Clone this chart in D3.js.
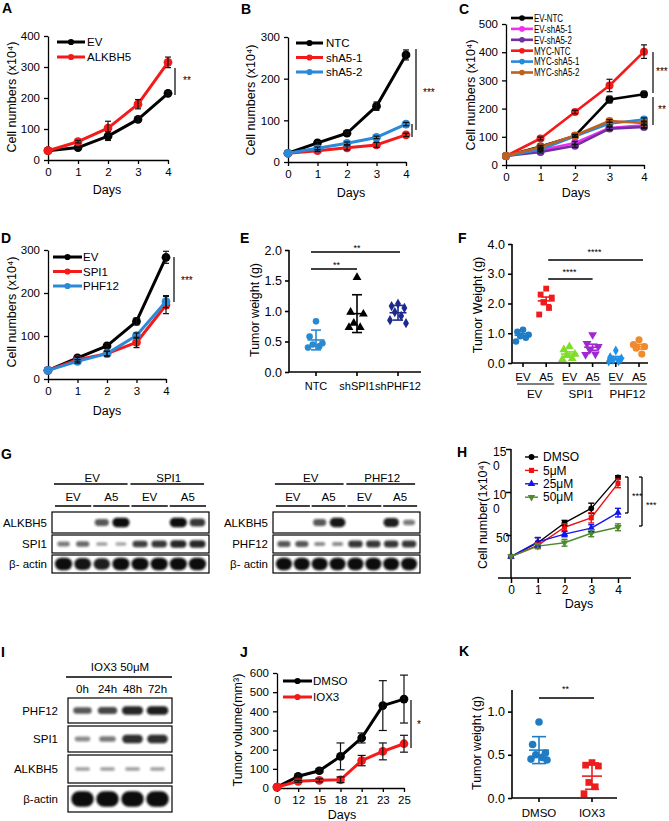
<!DOCTYPE html>
<html><head><meta charset="utf-8">
<script src="https://cdn.jsdelivr.net/npm/d3@7"></script>
<style>body{margin:0;background:#fff}</style>
</head><body>
<svg id="chart" width="669" height="821"></svg>
<script>
// ================= DATA =================
const days = [0, 1, 2, 3, 4];
// A
const A_ticks = [0, 100, 200, 300, 400];
const A_EV = [30, 40, 77, 131, 215];
const A_EV_err = [0, 3, 14, 8, 6];
const A_ALKBH5 = [30, 59, 103, 180, 315];
const A_ALKBH5_err = [0, 4, 22, 15, 17];
// B
const B_ticks = [0, 100, 200, 300];
const B_NTC = [21, 46, 69, 134, 257];
const B_NTC_err = [0, 3, 3, 10, 12];
const B_sh1 = [21, 27, 34, 41, 65];
const B_sh1_err = [0, 2, 5, 6, 4];
const B_sh2 = [21, 33, 45, 59, 91];
const B_sh2_err = [0, 3, 3, 3, 4];
// C
const C_ticks = [0, 100, 200, 300, 400, 500];
const C_names = ["EV-NTC", "EV-shA5-1", "EV-shA5-2", "MYC-NTC", "MYC-shA5-1", "MYC-shA5-2"];
const C_EV_NTC = [32, 66, 103, 232, 251];
const C_EV_NTC_err = [0, 4, 5, 12, 10];
const C_EV_sh1 = [32, 52, 78, 131, 141];
const C_EV_sh1_err = [0, 3, 6, 6, 8];
const C_EV_sh2 = [32, 46, 68, 129, 135];
const C_EV_sh2_err = [0, 3, 5, 5, 6];
const C_MYC_NTC = [32, 94, 188, 282, 402];
const C_MYC_NTC_err = [0, 5, 6, 22, 24];
const C_MYC_sh1 = [32, 55, 102, 147, 161];
const C_MYC_sh1_err = [0, 3, 4, 5, 6];
const C_MYC_sh2 = [32, 64, 105, 156, 149];
const C_MYC_sh2_err = [0, 3, 4, 5, 6];
// D
const D_ticks = [0, 100, 200, 300];
const D_EV = [20, 49, 77, 134, 283];
const D_EV_err = [0, 4, 6, 8, 14];
const D_SPI1 = [20, 45, 59, 85, 172];
const D_SPI1_err = [0, 5, 6, 12, 20];
const D_PHF12 = [20, 41, 59, 101, 180];
const D_PHF12_err = [0, 4, 5, 6, 14];
// E (tumor weight, g)
const E_cats = ["NTC", "shSPI1", "shPHF12"];
const E_NTC = [0.83, 0.58, 0.47, 0.45, 0.42, 0.40];
const E_shSPI1 = [1.55, 0.98, 0.95, 0.80, 0.73, 0.73];
const E_shPHF12 = [1.12, 1.08, 1.05, 0.98, 0.92, 0.85, 0.80];
const E_ticks = [0, 0.5, 1.0, 1.5, 2.0];
// F (tumor weight, g)
const F_cats = ["EV-EV", "EV-A5", "SPI1-EV", "SPI1-A5", "PHF12-EV", "PHF12-A5"];
const F_sub = ["EV", "A5"];
const F_groups = ["EV", "SPI1", "PHF12"];
const F_EV_EV = [1.12, 1.05, 0.95, 0.90, 0.85, 0.72];
const F_EV_A5 = [2.50, 2.30, 2.20, 2.05, 1.85, 1.63];
const F_SPI1_EV = [0.55, 0.45, 0.30, 0.25, 0.15, 0.12];
const F_SPI1_A5 = [0.95, 0.65, 0.55, 0.45, 0.30, 0.28];
const F_PHF12_EV = [0.42, 0.20, 0.15, 0.10, 0.06, 0.05];
const F_PHF12_A5 = [0.78, 0.62, 0.55, 0.50, 0.30];
const F_ticks = [0, 1, 2, 3, 4];
// G (western blot band intensities, 0-1)
const G_left_groups = ["EV", "SPI1"];
const G_right_groups = ["EV", "PHF12"];
const G_sub = ["EV", "A5", "EV", "A5"];
const G_left_ALKBH5 = [0, 0, 0.55, 1.0, 0, 0, 1.0, 0.75];
const G_left_SPI1 = [0.35, 0.45, 0.15, 0.1, 0.7, 0.75, 0.85, 0.85];
const G_left_actin = [1, 0.95, 0.9, 1, 1, 1, 1, 1];
const G_right_ALKBH5 = [0, 0, 0.55, 0.95, 0, 0, 0.9, 0.35];
const G_right_PHF12 = [0.55, 0.55, 0.25, 0.25, 0.75, 0.75, 0.75, 0.75];
const G_right_actin = [1, 1, 1, 1, 1, 1, 1, 1];
// H
const H_series = ["DMSO", "5\u03bcM", "25\u03bcM", "50\u03bcM"];
const H_DMSO = [25, 41, 64, 81, 117];
const H_DMSO_err = [0, 6, 3, 6, 2];
const H_5 = [25, 38, 59, 70, 110];
const H_5_err = [0, 3, 4, 6, 5];
const H_25 = [25, 42, 51, 58, 76];
const H_25_err = [0, 5, 3, 4, 5];
const H_50 = [25, 37, 41, 52, 59];
const H_50_err = [0, 3, 4, 4, 4];
const H_ticks = [50, 100, 150];
const H_tickLabels = [["50"], ["10", "0"], ["15", "0"]];
// I
const I_times = ["0h", "24h", "48h", "72h"];
const I_PHF12 = [0.55, 0.65, 0.85, 0.9];
const I_SPI1 = [0.25, 0.35, 0.8, 0.8];
const I_ALKBH5 = [0.15, 0.15, 0.15, 0.15];
const I_actin = [1, 1, 1, 1];
// J
const J_days = ["0", "12", "15", "18", "21", "23", "25"];
const J_DMSO = [5, 61, 90, 165, 261, 430, 464];
const J_DMSO_err = [0, 8, 10, 70, 26, 130, 125];
const J_IOX3 = [5, 35, 40, 43, 143, 191, 231];
const J_IOX3_err = [0, 5, 8, 15, 27, 44, 44];
const J_ticks = [0, 100, 200, 300, 400, 500, 600];
// K
const K_cats = ["DMSO", "IOX3"];
const K_DMSO = [0.88, 0.62, 0.52, 0.50, 0.47, 0.45, 0.44];
const K_IOX3 = [0.41, 0.38, 0.37, 0.18, 0.13, 0.05];
const K_ticks = [0, 0.5, 1.0];

// ================= HELPERS =================
const svg = d3.select('#chart');
const FONT = "'Liberation Sans', Arial, Helvetica, sans-serif";
const defs = svg.append('defs');
defs.append('filter').attr('id', 'blur').attr('x', '-50%').attr('y', '-100%').attr('width', '200%').attr('height', '300%')
  .append('feGaussianBlur').attr('stdDeviation', 1.1);

function T(x, y, s, o = {}) {
  const t = svg.append('text').attr('x', x).attr('y', y).text(s)
    .attr('font-family', FONT).attr('font-size', o.fs || 12).attr('fill', o.fill || '#000')
    .attr('text-anchor', o.anchor || 'middle');
  if (o.bold) t.attr('font-weight', 'bold');
  if (o.rot) t.attr('transform', `rotate(${o.rot},${x},${y})`);
  if (o.mid !== false) t.attr('dy', '0.35em');
  return t;
}
function L(x1, y1, x2, y2, c = '#000', w = 1.2) {
  return svg.append('line').attr('x1', x1).attr('y1', y1).attr('x2', x2).attr('y2', y2)
    .attr('stroke', c).attr('stroke-width', w);
}
function styleAxis(a, fs, sw) {
  a.select('.domain').attr('stroke', '#000').attr('stroke-width', sw);
  a.selectAll('.tick line').attr('stroke', '#000').attr('stroke-width', sw);
  a.selectAll('.tick text').attr('font-size', fs).attr('font-family', FONT).attr('fill', '#000');
}
function sym(type, size, down) {
  return { d: d3.symbol().type(type).size(size)(), rot: down ? 180 : 0 };
}
function letter(x, y, s) { T(x, y, s, { fs: 14, bold: true, anchor: 'start', mid: false }); }

function linePanel(o) {
  const g = svg.append('g');
  const x = o.x, y = o.y;
  const ya = g.append('g').attr('transform', `translate(${o.axisX},0)`)
    .call(d3.axisLeft(y).tickValues(o.yTicks).tickSize(o.ts || 4).tickSizeOuter(0).tickPadding(o.tp || 4).tickFormat(o.yFmt || (d => d)));
  const xa = g.append('g').attr('transform', `translate(0,${o.axisY})`)
    .call(d3.axisBottom(x).tickValues(o.xTicks).tickSize(o.ts || 4).tickSizeOuter(0).tickPadding(o.tp || 4).tickFormat(o.xFmt || (d => d)));
  styleAxis(ya, o.fs || 11.5, o.sw || 1.3);
  styleAxis(xa, o.fs || 11.5, o.sw || 1.3);
  if (o.yDomainPath) ya.select('.domain').attr('d', o.yDomainPath);
  if (o.xDomainPath) xa.select('.domain').attr('d', o.xDomainPath);
  const all = [];
  o.series.forEach(s => {
    const pts = o.xs.map((xv, i) => ({ x: x(xv), y: y(s.v[i]), v: s.v[i], e: s.e ? s.e[i] : 0 }));
    all.push({ s, pts });
    g.append('path').datum(pts).attr('d', d3.line().x(d => d.x).y(d => d.y))
      .attr('fill', 'none').attr('stroke', s.c).attr('stroke-width', o.lw || 3).attr('stroke-linejoin', 'round');
    const m = s.m || sym(d3.symbolCircle, o.ms || 60);
    g.selectAll(null).data(pts).enter().append('path')
      .attr('transform', d => `translate(${d.x},${d.y}) rotate(${m.rot})`).attr('d', m.d).attr('fill', s.c);
  });
  all.forEach(({ s, pts }) => {
    pts.forEach(p => {
      if (!p.e) return;
      const c = o.errColor || s.c;
      const yt = y(p.v + p.e), yb = y(p.v - p.e), cw = o.cw || 3;
      g.append('line').attr('x1', p.x).attr('x2', p.x).attr('y1', yt).attr('y2', yb).attr('stroke', c).attr('stroke-width', o.ew || 1.2);
      [yt, yb].forEach(yy => g.append('line').attr('x1', p.x - cw).attr('x2', p.x + cw).attr('y1', yy).attr('y2', yy).attr('stroke', c).attr('stroke-width', o.ew || 1.2));
    });
  });
  if (o.leg) {
    o.series.forEach((s, i) => {
      const ly = o.leg.y + i * o.leg.dy;
      g.append('line').attr('x1', o.leg.x1).attr('x2', o.leg.x2).attr('y1', ly).attr('y2', ly)
        .attr('stroke', s.c).attr('stroke-width', o.leg.lw || o.lw || 3);
      const m = s.lm || s.m || sym(d3.symbolCircle, o.leg.ms || 30);
      g.append('path').attr('transform', `translate(${(o.leg.x1 + o.leg.x2) / 2},${ly}) rotate(${m.rot})`).attr('d', m.d).attr('fill', s.c);
      const t = T(o.leg.tx, ly, s.name, { anchor: 'start', fs: o.leg.fs || 11.5 });
      if (o.leg.sx) {
        const len = t.node().getComputedTextLength();
        t.attr('textLength', len * o.leg.sx).attr('lengthAdjust', 'spacingAndGlyphs');
      }
    });
  }
  return g;
}

const jit = [0, -0.8, 0.8, -0.4, 0.4, -1, 1, 0.2];
function dotPanel(o) {
  const g = svg.append('g');
  const x = o.x, y = o.y;
  const ya = g.append('g').attr('transform', `translate(${o.axisX},0)`)
    .call(d3.axisLeft(y).tickValues(o.yTicks).tickSize(4).tickSizeOuter(0).tickPadding(3).tickFormat(d3.format('.1f')));
  styleAxis(ya, o.fs || 12.5, 1.6);
  ya.select('.domain').attr('d', `M0,${y(o.yTop)}V${o.axisY}`);
  g.append('line').attr('x1', o.axisX).attr('x2', o.xEnd).attr('y1', o.axisY).attr('y2', o.axisY).attr('stroke', '#000').attr('stroke-width', 1.6);
  o.groups.forEach((gr) => {
    const cx = x(gr.key);
    g.append('line').attr('x1', cx).attr('x2', cx).attr('y1', o.axisY).attr('y2', o.axisY + 4).attr('stroke', '#000').attr('stroke-width', 1.6);
    const m = d3.mean(gr.v), sd = d3.deviation(gr.v);
    const err = o.stat === 'sem' ? sd / Math.sqrt(gr.v.length) : sd;
    gr.v.forEach((v, i) => {
      const px = cx + jit[i % jit.length] * o.jw;
      g.append('path').attr('transform', `translate(${px},${y(v)}) rotate(${gr.m.rot})`).attr('d', gr.m.d).attr('fill', gr.c);
    });
    g.append('line').attr('x1', cx - o.mw / 2).attr('x2', cx + o.mw / 2).attr('y1', y(m)).attr('y2', y(m)).attr('stroke', gr.c).attr('stroke-width', 1.6);
    g.append('line').attr('x1', cx).attr('x2', cx).attr('y1', y(m + err)).attr('y2', y(m - err)).attr('stroke', gr.c).attr('stroke-width', 1.6);
    [m + err, m - err].forEach(vv => g.append('line').attr('x1', cx - o.cw / 2).attr('x2', cx + o.cw / 2).attr('y1', y(vv)).attr('y2', y(vv)).attr('stroke', gr.c).attr('stroke-width', 1.6));
  });
  return g;
}

function blot(o) {
  const lane = d3.scaleBand().domain(d3.range(o.n)).range([o.x0 + 2, o.x1 - 2]).paddingInner(0.1).paddingOuter(0.05);
  o.rows.forEach(r => {
    svg.append('rect').attr('x', o.x0).attr('y', r.y0).attr('width', o.x1 - o.x0).attr('height', r.y1 - r.y0)
      .attr('fill', '#fff').attr('stroke', '#000').attr('stroke-width', 1.2);
    const cy = (r.y0 + r.y1) / 2;
    r.v.forEach((v, i) => {
      if (v <= 0) return;
      const w = lane.bandwidth() * (0.6 + 0.4 * v);
      const h = (r.y1 - r.y0) * (r.hs || 1) * (0.16 + 0.3 * v);
      svg.append('rect').attr('x', lane(i) + lane.bandwidth() / 2 - w / 2).attr('y', cy - h / 2)
        .attr('width', w).attr('height', h).attr('rx', h / 2)
        .attr('fill', '#111').attr('opacity', 0.3 + 0.7 * v).attr('filter', 'url(#blur)');
    });
    T(o.labelX, cy, r.label, { anchor: 'end', fs: 11.5 });
  });
  return lane;
}

// ================= PANEL A =================
letter(2, 13, 'A');
linePanel({
  x: d3.scaleLinear().domain([0, 4]).range([48, 168]), y: d3.scaleLinear().domain([0, 400]).range([160, 36]),
  axisX: 48, axisY: 160, xs: days, xTicks: days, yTicks: A_ticks, errColor: '#111',
  series: [{ name: 'EV', v: A_EV, e: A_EV_err, c: '#000' }, { name: 'ALKBH5', v: A_ALKBH5, e: A_ALKBH5_err, c: '#f41a1a' }],
  leg: { x1: 57, x2: 85, tx: 87, y: 42, dy: 15 }
});
T(12, 97, 'Cell numbers (x10\u2074)', { rot: -90, fs: 12.5 });
T(107, 190, 'Days', { fs: 12.5 });
L(175, 68, 175, 95, '#000', 1.2);
T(183, 80, '**', { fs: 10, anchor: 'start' });

// ================= PANEL B =================
letter(241, 14, 'B');
linePanel({
  x: d3.scaleLinear().domain([0, 4]).range([288, 406]), y: d3.scaleLinear().domain([0, 300]).range([162, 37]),
  axisX: 288, axisY: 162, xs: days, xTicks: days, yTicks: B_ticks, errColor: '#111',
  series: [{ name: 'NTC', v: B_NTC, e: B_NTC_err, c: '#000' }, { name: 'shA5-1', v: B_sh1, e: B_sh1_err, c: '#f41a1a' }, { name: 'shA5-2', v: B_sh2, e: B_sh2_err, c: '#2a8ad8' }],
  leg: { x1: 296, x2: 323, tx: 326, y: 43, dy: 14.5 }
});
T(251, 100, 'Cell numbers (x10\u2074)', { rot: -90, fs: 12.5 });
T(351, 193, 'Days', { fs: 12.5 });
L(416, 49, 416, 130);
L(412, 124, 412, 137);
T(423, 92, '***', { fs: 10, anchor: 'start' });

// ================= PANEL C =================
letter(459, 14, 'C');
linePanel({
  x: d3.scaleLinear().domain([0, 4]).range([506, 644]), y: d3.scaleLinear().domain([0, 500]).range([165, 24]),
  axisX: 506, axisY: 165, xs: days, xTicks: days, yTicks: C_ticks, errColor: '#111', lw: 2.6, ms: 50,
  series: [
    { name: C_names[0], v: C_EV_NTC, e: C_EV_NTC_err, c: '#000' },
    { name: C_names[1], v: C_EV_sh1, e: C_EV_sh1_err, c: '#f030f0' },
    { name: C_names[2], v: C_EV_sh2, e: C_EV_sh2_err, c: '#7030a0' },
    { name: C_names[3], v: C_MYC_NTC, e: C_MYC_NTC_err, c: '#f41a1a' },
    { name: C_names[4], v: C_MYC_sh1, e: C_MYC_sh1_err, c: '#2a8ad8' },
    { name: C_names[5], v: C_MYC_sh2, e: C_MYC_sh2_err, c: '#c0601a' }],
  leg: { x1: 511, x2: 533, tx: 534, y: 18, dy: 10.9, fs: 11, sx: 0.72, ms: 25 }
});
T(471, 95, 'Cell numbers (x10\u2074)', { rot: -90, fs: 12.5 });
T(576, 193, 'Days', { fs: 12.5 });
L(653, 52, 653, 93);
T(656, 71, '***', { fs: 10, anchor: 'start' });
L(653, 97, 653, 125);
T(658, 109, '**', { fs: 10, anchor: 'start' });

// ================= PANEL D =================
letter(1, 243, 'D');
linePanel({
  x: d3.scaleLinear().domain([0, 4]).range([48, 166]), y: d3.scaleLinear().domain([0, 300]).range([379, 250]),
  axisX: 48, axisY: 379, xs: days, xTicks: days, yTicks: D_ticks, errColor: '#111',
  series: [{ name: 'EV', v: D_EV, e: D_EV_err, c: '#000' }, { name: 'SPI1', v: D_SPI1, e: D_SPI1_err, c: '#f41a1a' }, { name: 'PHF12', v: D_PHF12, e: D_PHF12_err, c: '#2a8ad8' }],
  leg: { x1: 53, x2: 82, tx: 83, y: 257, dy: 14.5 }
});
T(12, 312, 'Cell numbers (x10\u2074)', { rot: -90, fs: 12.5 });
T(107, 411, 'Days', { fs: 12.5 });
L(174, 257, 174, 302);
T(181, 280, '***', { fs: 10, anchor: 'start' });

// ================= PANEL E =================
letter(240, 243, 'E');
{
  const x = d3.scalePoint().domain(E_cats).range([316, 398]);
  const y = d3.scaleLinear().domain([0, 2]).range([372, 250]);
  dotPanel({
    x, y, axisX: 289, axisY: 372, xEnd: 421, yTop: 2, yTicks: E_ticks, stat: 'sd', jw: 8, mw: 17, cw: 10,
    groups: [
      { key: 'NTC', v: E_NTC, c: '#2a8ad0', m: sym(d3.symbolCircle, 34) },
      { key: 'shSPI1', v: E_shSPI1, c: '#000', m: sym(d3.symbolTriangle, 34) },
      { key: 'shPHF12', v: E_shPHF12, c: '#1c2a8c', m: sym(d3.symbolDiamond, 30) }]
  });
  E_cats.forEach(c => T(x(c), 386, c, { fs: 11 }));
  T(255, 310, 'Tumor weight (g)', { rot: -90, fs: 12.5 });
  L(x('NTC') - 5, 252, x('shPHF12') + 2, 252, '#000', 1.5);
  T((x('NTC') + x('shPHF12')) / 2, 248, '**', { fs: 9 });
  L(x('NTC') - 5, 269, x('shSPI1'), 269, '#000', 1.5);
  T((x('NTC') + x('shSPI1')) / 2, 265, '**', { fs: 9 });
}

// ================= PANEL F =================
letter(458, 243, 'F');
{
  const x = d3.scalePoint().domain(F_cats).range([523, 639]);
  const y = d3.scaleLinear().domain([0, 4]).range([363, 244]);
  dotPanel({
    x, y, axisX: 512, axisY: 363, xEnd: 648, yTop: 4, yTicks: F_ticks, stat: 'sem', jw: 7, mw: 17, cw: 10,
    groups: [
      { key: F_cats[0], v: F_EV_EV, c: '#1f7cc4', m: sym(d3.symbolCircle, 34) },
      { key: F_cats[1], v: F_EV_A5, c: '#ee1c1c', m: sym(d3.symbolSquare, 34) },
      { key: F_cats[2], v: F_SPI1_EV, c: '#80dd28', m: sym(d3.symbolTriangle, 34) },
      { key: F_cats[3], v: F_SPI1_A5, c: '#a028d0', m: sym(d3.symbolTriangle, 34, true) },
      { key: F_cats[4], v: F_PHF12_EV, c: '#2090e6', m: sym(d3.symbolDiamond, 28) },
      { key: F_cats[5], v: F_PHF12_A5, c: '#f08a2c', m: sym(d3.symbolCircle, 40) }]
  });
  F_groups.forEach((grp, gi) => {
    const a = x(F_cats[gi * 2]), b = x(F_cats[gi * 2 + 1]);
    T(a, 377, F_sub[0], { fs: 11.5 });
    T(b, 377, F_sub[1], { fs: 11.5 });
    L(a - 6, 384, b + 8, 384, '#000', 1.2);
    T((a + b) / 2, 394, grp, { fs: 11.5 });
  });
  T(478, 305, 'Tumor Weight (g)', { rot: -90, fs: 12.5 });
  L(x(F_cats[1]) + 2, 260, x(F_cats[5]) + 4, 260, '#000', 1.5);
  T((x(F_cats[1]) + x(F_cats[5])) / 2 + 2, 252, '****', { fs: 9 });
  L(x(F_cats[1]) + 2, 279, x(F_cats[3]), 279, '#000', 1.5);
  T((x(F_cats[1]) + x(F_cats[3])) / 2, 272, '****', { fs: 9 });
}

// ================= PANEL G =================
letter(1, 459, 'G');
function gBlot(x0, x1, labelX, groups, rows) {
  const lane = blot({ x0, x1, n: 8, labelX, rows });
  const bw = lane.bandwidth();
  groups.forEach((gname, gi) => {
    const a = lane(gi * 4), b = lane(gi * 4 + 3) + bw;
    T((a + b) / 2, 478, gname, { fs: 11.5 });
    L(a - 1, 484, b - 2, 484, '#000', 1.3);
  });
  G_sub.forEach((s, si) => {
    const a = lane(si * 2), b = lane(si * 2 + 1) + bw;
    T((a + b) / 2, 497, s, { fs: 11.5 });
    L(a, 506, b, 506, '#000', 1.3);
  });
}
gBlot(52, 209, 47, G_left_groups, [
  { label: 'ALKBH5', y0: 512, y1: 533, v: G_left_ALKBH5 },
  { label: 'SPI1', y0: 535, y1: 553, v: G_left_SPI1 },
  { label: '\u03b2- actin', y0: 555, y1: 573, v: G_left_actin, hs: 1.5 }]);
gBlot(273, 420, 268, G_right_groups, [
  { label: 'ALKBH5', y0: 512, y1: 533, v: G_right_ALKBH5 },
  { label: 'PHF12', y0: 535, y1: 553, v: G_right_PHF12 },
  { label: '\u03b2- actin', y0: 555, y1: 573, v: G_right_actin, hs: 1.5 }]);

// ================= PANEL H =================
letter(457, 457, 'H');
{
  const x = d3.scaleLinear().domain([0, 4]).range([511, 618]);
  const y = d3.scaleLinear().domain([0, 150]).range([578, 449]);
  linePanel({
    x, y, axisX: 511, axisY: 578, xs: days, xTicks: days, yTicks: H_ticks, yFmt: () => '', ts: 5, tp: 2, fs: 12, sw: 1.5,
    lw: 1.4, cw: 3, ew: 1.4, xDomainPath: 'M498,0H631', yDomainPath: 'M0,449V578',
    series: [
      { name: H_series[0], v: H_DMSO, e: H_DMSO_err, c: '#000', m: sym(d3.symbolCircle, 26) },
      { name: H_series[1], v: H_5, e: H_5_err, c: '#ee1010', m: sym(d3.symbolSquare, 26) },
      { name: H_series[2], v: H_25, e: H_25_err, c: '#1515ee', m: sym(d3.symbolTriangle, 24) },
      { name: H_series[3], v: H_50, e: H_50_err, c: '#4e8a30', m: sym(d3.symbolTriangle, 24, true) }],
    leg: { x1: 525, x2: 538, tx: 543, y: 457, dy: 13.4, lw: 1.4, fs: 12 }
  });
  H_ticks.forEach((t, i) => {
    H_tickLabels[i].forEach((s, j) => T(i === 0 ? 496 : 493, y(t) + 3 + j * 14, s, { anchor: 'start', fs: 12 }));
  });
  T(483, 515, 'Cell number(1x10\u2074)', { rot: -90, fs: 12.5 });
  T(579, 604, 'Days', { fs: 12.5 });
  L(625, 477, 628, 477, '#000', 1.3); L(628, 477, 628, 513, '#000', 1.3); L(625, 513, 628, 513, '#000', 1.3);
  T(632, 496, '***', { fs: 9, anchor: 'start' });
  L(639, 477, 642, 477, '#000', 1.3); L(642, 477, 642, 526, '#000', 1.3); L(639, 526, 642, 526, '#000', 1.3);
  T(646, 505, '***', { fs: 9, anchor: 'start' });
}

// ================= PANEL I =================
letter(1, 657, 'I');
{
  const lane = blot({
    x0: 68, x1: 172, n: 4, labelX: 58, rows: [
      { label: 'PHF12', y0: 698, y1: 723, v: I_PHF12, hs: 0.8 },
      { label: 'SPI1', y0: 726, y1: 752, v: I_SPI1, hs: 0.8 },
      { label: 'ALKBH5', y0: 755, y1: 783, v: I_ALKBH5, hs: 0.6 },
      { label: '\u03b2-actin', y0: 786, y1: 812, v: I_actin, hs: 1.3 }]
  });
  T(120, 667, 'IOX3 50\u03bcM', { fs: 11.5 });
  L(66, 677, 172, 677, '#000', 1.3);
  I_times.forEach((t, i) => T(lane(i) + lane.bandwidth() / 2, 689, t, { fs: 11.5 }));
}

// ================= PANEL J =================
letter(240, 657, 'J');
linePanel({
  x: d3.scalePoint().domain(J_days).range([277, 404]), y: d3.scaleLinear().domain([0, 600]).range([788, 673]),
  axisX: 277, axisY: 788, xs: J_days, xTicks: J_days, yTicks: J_ticks, errColor: '#111', cw: 4,
  series: [{ name: 'DMSO', v: J_DMSO, e: J_DMSO_err, c: '#000' }, { name: 'IOX3', v: J_IOX3, e: J_IOX3_err, c: '#f41a1a' }],
  leg: { x1: 283, x2: 312, tx: 313, y: 681, dy: 16 }
});
T(238, 730, 'Tumor volume(mm\u00b3)', { rot: -90, fs: 12.5 });
T(342, 815, 'Days', { fs: 12.5 });
L(411, 700, 411, 748);
T(417, 724, '*', { fs: 10, anchor: 'start' });

// ================= PANEL K =================
letter(459, 656, 'K');
{
  const x = d3.scalePoint().domain(K_cats).range([539, 592]);
  const y = d3.scaleLinear().domain([0, 1.25]).range([798, 690]);
  dotPanel({
    x, y, axisX: 512, axisY: 798, xEnd: 617, yTop: 1.25, yTicks: K_ticks, stat: 'sd', jw: 8, mw: 20, cw: 14,
    groups: [
      { key: 'DMSO', v: K_DMSO, c: '#1f7cc4', m: sym(d3.symbolCircle, 45) },
      { key: 'IOX3', v: K_IOX3, c: '#ee1c1c', m: sym(d3.symbolSquare, 45) }]
  });
  K_cats.forEach(c => T(x(c), 813, c, { fs: 11.5 }));
  T(477, 743, 'Tumor weight (g)', { rot: -90, fs: 12.5 });
  L(x('DMSO'), 698, x('IOX3') + 2, 698, '#000', 1.5);
  T((x('DMSO') + x('IOX3')) / 2, 689, '**', { fs: 9 });
}
</script>
</body></html>
